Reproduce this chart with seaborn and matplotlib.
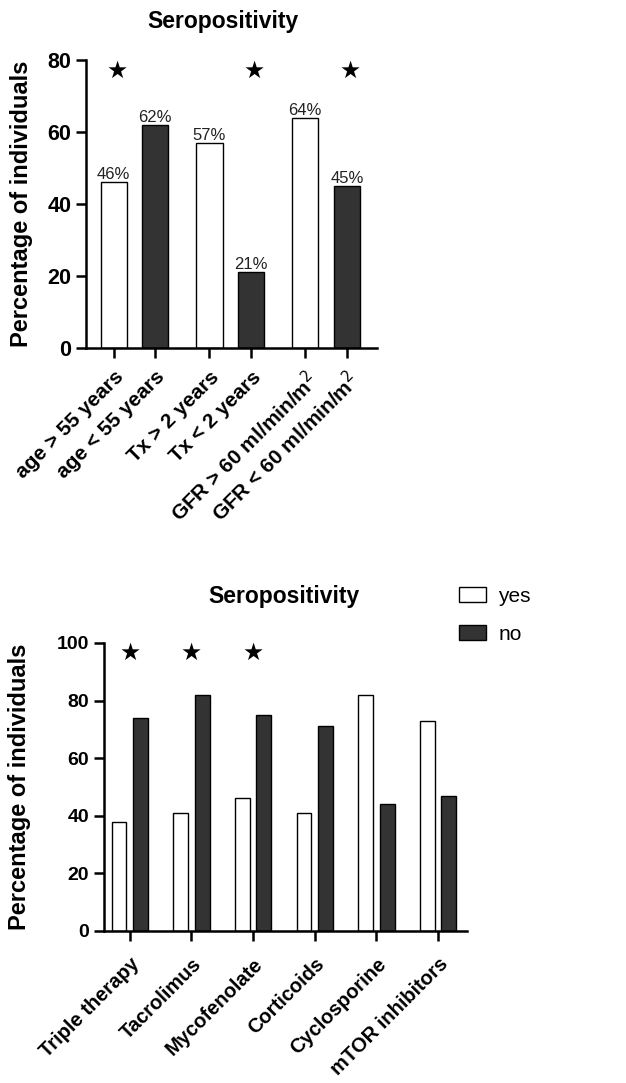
import matplotlib
matplotlib.use("Agg")
import matplotlib.pyplot as plt
import numpy as np
import pandas as pd
import seaborn as sns

# Top chart data
top_labels = ["age > 55 years", "age < 55 years", "Tx > 2 years", "Tx < 2 years",
              "GFR > 60 ml/min/m$^{2}$", "GFR < 60 ml/min/m$^{2}$"]
top_status = ["yes", "no", "yes", "no", "yes", "no"]
top_values = [46, 62, 57, 21, 64, 45]
top_star_bars = [0, 3, 5]

# Bottom chart data
drugs = ["Triple therapy", "Tacrolimus", "Mycofenolate", "Corticoids",
         "Cyclosporine", "mTOR inhibitors"]
drug_yes = [38, 41, 46, 41, 82, 73]
drug_no = [74, 82, 75, 71, 44, 47]
drug_star_groups = [0, 1, 2]

palette = {"yes": "white", "no": "#333333"}

sns.set_style("ticks")
plt.rcParams["font.family"] = ["Liberation Sans", "DejaVu Sans"]
plt.rcParams["axes.linewidth"] = 1.8
# plain black text and axes, like the original figure
for key in ["text.color", "axes.labelcolor", "xtick.color", "ytick.color",
            "axes.edgecolor"]:
    plt.rcParams[key] = "black"

fig = plt.figure(figsize=(6.26, 10.83), dpi=100)

# ---------- top chart ----------
ax1 = fig.add_axes([0.137, 0.6787, 0.465, 0.2659])
# pairs sit 1 apart, groups separated by a wider gap
pos = [(i // 2) * 2.3 + (i % 2) for i in range(len(top_values))]
df1 = pd.DataFrame({"pos": pos, "value": top_values, "status": top_status})
sns.barplot(data=df1, x="pos", y="value", hue="status", palette=palette,
            native_scale=True, dodge=False, width=0.63, edgecolor="black",
            linewidth=1.0, legend=False, ax=ax1)
for c in ax1.containers:
    ax1.bar_label(c, fmt="%.0f%%", padding=0, fontsize=12, color="#222222")
for b in top_star_bars:
    ax1.text(pos[b] + 0.08, 77, "★", ha="center", va="center", fontsize=17,
             color="black", family=["DejaVu Sans"])
ax1.set_xlim(-0.67, pos[-1] + 0.72)
ax1.set_ylim(0, 80)
ax1.set_yticks([0, 20, 40, 60, 80])
ax1.set_xticks(pos)
ax1.set_xticklabels(top_labels, rotation=45, ha="right", rotation_mode="anchor",
                    fontsize=15, fontweight="bold")
for t in ax1.get_yticklabels():
    t.set_fontsize(15.5)
    t.set_fontweight("bold")
ax1.tick_params(length=7, width=1.8)
ax1.tick_params(axis="x", pad=7)
ax1.set_xlabel("")
ax1.set_ylabel("Percentage of individuals", fontsize=17, fontweight="bold")
ax1.yaxis.set_label_coords(-0.182, 0.5)
ax1.text(0.47, 1.132, "Seropositivity", transform=ax1.transAxes, ha="center",
         va="center", fontsize=16.5, fontweight="bold")
sns.despine(ax=ax1)

# ---------- bottom chart ----------
ax2 = fig.add_axes([0.166, 0.1404, 0.58, 0.2659])
df2 = pd.DataFrame({
    "drug": drugs * 2,
    "value": drug_yes + drug_no,
    "status": ["yes"] * len(drugs) + ["no"] * len(drugs),
})
sns.barplot(data=df2, x="drug", y="value", hue="status", palette=palette,
            width=0.7, gap=0.31, edgecolor="black", linewidth=1.0, ax=ax2)
for g in drug_star_groups:
    ax2.text(g, 96.5, "★", ha="center", va="center", fontsize=17,
             color="black", family=["DejaVu Sans"])
ax2.set_xlim(-0.42, len(drugs) - 1 + 0.47)
ax2.set_ylim(0, 100)
ax2.set_yticks([0, 20, 40, 60, 80, 100])
ax2.set_xticks(range(len(drugs)))
ax2.set_xticklabels(drugs, rotation=45, ha="right", rotation_mode="anchor",
                    fontsize=14.5, fontweight="bold")
for t in ax2.get_yticklabels():
    t.set_fontsize(14)
    t.set_fontweight("bold")
ax2.tick_params(length=7, width=1.8)
ax2.tick_params(axis="x", pad=10)
ax2.set_xlabel("")
ax2.set_ylabel("Percentage of individuals", fontsize=17, fontweight="bold")
ax2.yaxis.set_label_coords(-0.2, 0.5)
ax2.text(0.496, 1.16, "Seropositivity", transform=ax2.transAxes, ha="center",
         va="center", fontsize=16.5, fontweight="bold")
ax2.legend(title=None, loc="upper left", bbox_to_anchor=(0.925, 1.26),
           frameon=False, fontsize=15, handlelength=1.3, handleheight=0.7,
           labelspacing=0.9, handletextpad=0.6)
sns.despine(ax=ax2)

fig.savefig("out.png", dpi=100)
